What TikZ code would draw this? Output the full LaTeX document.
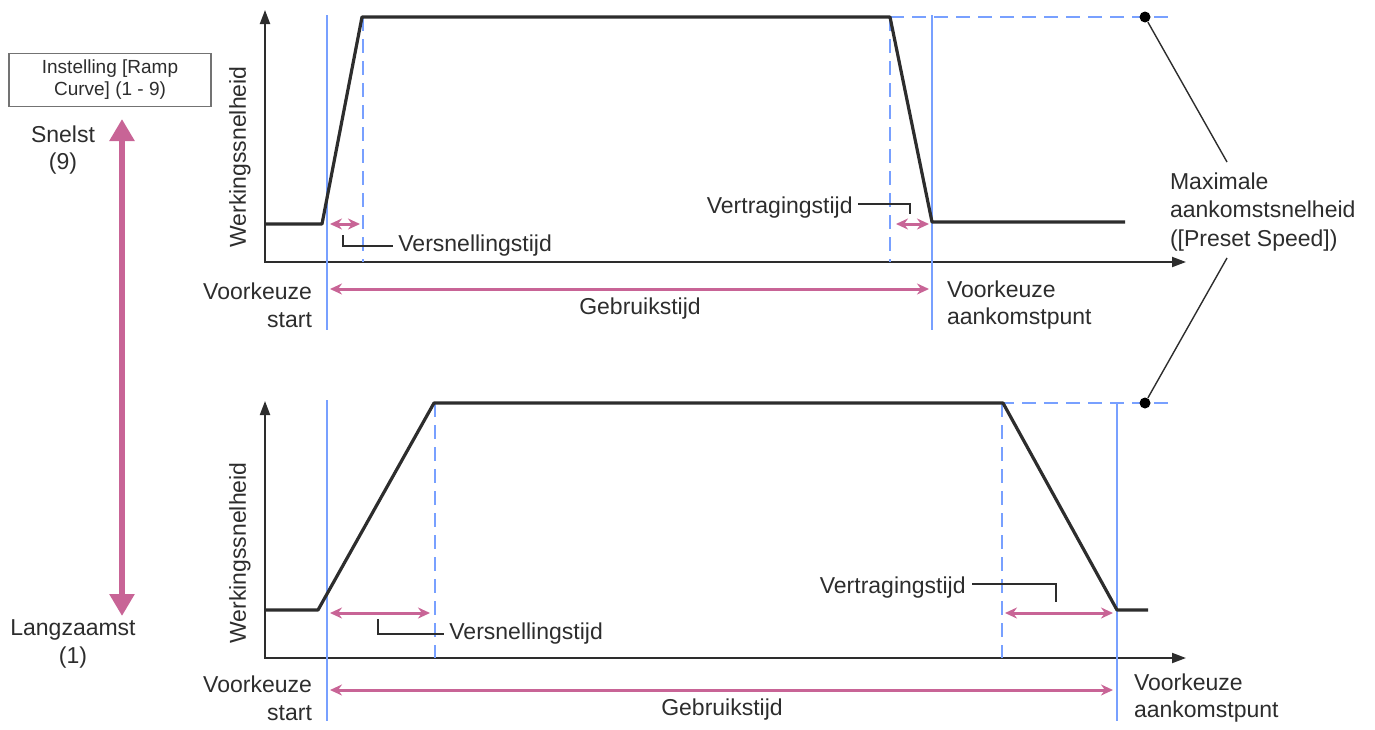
\documentclass[tikz,border=0pt]{standalone}
\usepackage{fontspec}
\setmainfont{Liberation Sans}
\usetikzlibrary{arrows.meta,positioning,calc}
\definecolor{guideblue}{RGB}{120,160,255}
\definecolor{spanpink}{RGB}{200,100,150}
\definecolor{ink}{RGB}{45,45,45}

\begin{document}
\begin{tikzpicture}[x=0.5pt, y=-0.5pt, >=Stealth, font=\fontsize{11.5}{13.8}\selectfont, text=ink,
  axes/.style={ink, line width=1pt, {Triangle[width=5pt,length=7pt]}-{Triangle[width=5pt,length=7pt]}},
  speed/.style={ink, line width=1.6pt, line join=round},
  guide/.style={guideblue, line width=1.1pt},
  guidedash/.style={guideblue, line width=1.1pt, dash pattern=on 7pt off 4pt},
  span/.style={spanpink, line width=1.5pt, {Stealth[length=6pt,width=5.5pt]}-{Stealth[length=6pt,width=5.5pt]}},
  lead/.style={ink, line width=0.7pt},
  dot/.style={circle, fill=black, inner sep=0pt, minimum size=5.5pt}]
  \useasboundingbox (0,0) rectangle (1375,729);

  % setting box and slow/fast scale
  \node[draw=black!55, line width=0.6pt, minimum width=101pt, minimum height=25pt, align=center,
        font=\fontsize{9.5}{11}\selectfont] (ramp) at (110,80) {Instelling [Ramp\\Curve] (1 - 9)};
  \coordinate (fast) at (122,119);
  \coordinate (slow) at (122,616);
  \draw[spanpink, line width=3pt, {Triangle[width=12pt,length=11pt]}-{Triangle[width=12pt,length=11pt]}] (fast) -- (slow);
  \node[align=center] (snelst) at (63,150) {Snelst\\(9)};
  \node[align=center] (langzaamst) at (73,644) {Langzaamst\\(1)};

  % ---- upper chart (fastest) ----
  \draw[axes] (265,10) -- (265,262) -- (1186,262);
  \node[rotate=90] (ylab1) at (240,157) {Werkingssnelheid};
  \draw[guide] (327,15) -- (327,330);
  \draw[guide] (932,15) -- (932,330);
  \draw[guidedash] (363,17) -- (363,262);
  \draw[guidedash] (890,17) -- (890,262);
  \draw[guidedash] (890,17) -- (1172,17);
  \draw[speed] (265,224) -- (322,224) -- (362,17) -- (890,17) -- (932,222) -- (1125,222);
  \node[dot] (top1) at (1145,17) {};
  % spans
  \draw[span] (330,224) -- (360,224);
  \draw[span] (896,224) -- (929,224);
  \draw[span] (330,289) -- (929,289);
  \node (use1) at (640,309) {Gebruikstijd};
  \node[anchor=west, inner sep=0pt] (accel1) at (398,246) {Versnellingstijd};
  \draw[lead] (343,235) |- ($(accel1.west)+(-5,0)$);
  \node[anchor=east, inner sep=0pt] (decel1) at (853,208) {Vertragingstijd};
  \draw[lead] ($(decel1.east)+(5,-4)$) -| (910,214);
  \node[align=right, anchor=east] (start1) at (319,305) {Voorkeuze\\start};
  \node[align=left, anchor=west] (end1) at (940,305) {Voorkeuze\\aankomstpunt};

  % ---- lower chart (slowest) ----
  \draw[axes] (265,401) -- (265,658) -- (1186,658);
  \node[rotate=90] (ylab2) at (240,553) {Werkingssnelheid};
  \draw[guide] (327,400) -- (327,721);
  \draw[guide] (1117,403) -- (1117,721);
  \draw[guidedash] (435,403) -- (435,658);
  \draw[guidedash] (1002,403) -- (1002,658);
  \draw[guidedash] (890,403) -- (1172,403);
  \draw[speed] (265,610) -- (318,610) -- (434,403) -- (1003,403) -- (1117,610) -- (1148,610);
  \node[dot] (top2) at (1145,403) {};
  % spans
  \draw[span] (330,613) -- (430,613);
  \draw[span] (1005,613) -- (1113,613);
  \draw[span] (330,690) -- (1113,690);
  \node (use2) at (722,710) {Gebruikstijd};
  \node[anchor=west, inner sep=0pt] (accel2) at (449,634) {Versnellingstijd};
  \draw[lead] (378,619) |- ($(accel2.west)+(-5,0)$);
  \node[anchor=east, inner sep=0pt] (decel2) at (966,588) {Vertragingstijd};
  \draw[lead] ($(decel2.east)+(6,-4)$) -| (1056,602);
  \node[align=right, anchor=east] (start2) at (319,698) {Voorkeuze\\start};
  \node[align=left, anchor=west] (end2) at (1127,698) {Voorkeuze\\aankomstpunt};

  % max speed callout
  \node[align=left, anchor=west, font=\fontsize{11.5}{14.3}\selectfont] (maxspeed) at (1163,212) {Maximale\\aankomstsnelheid\\([Preset Speed])};
  \coordinate (mtop) at (1227,162);
  \coordinate (mbot) at (1227,258);
  \draw[lead] (top1) -- (mtop);
  \draw[lead] (top2) -- (mbot);
\end{tikzpicture}
\end{document}
